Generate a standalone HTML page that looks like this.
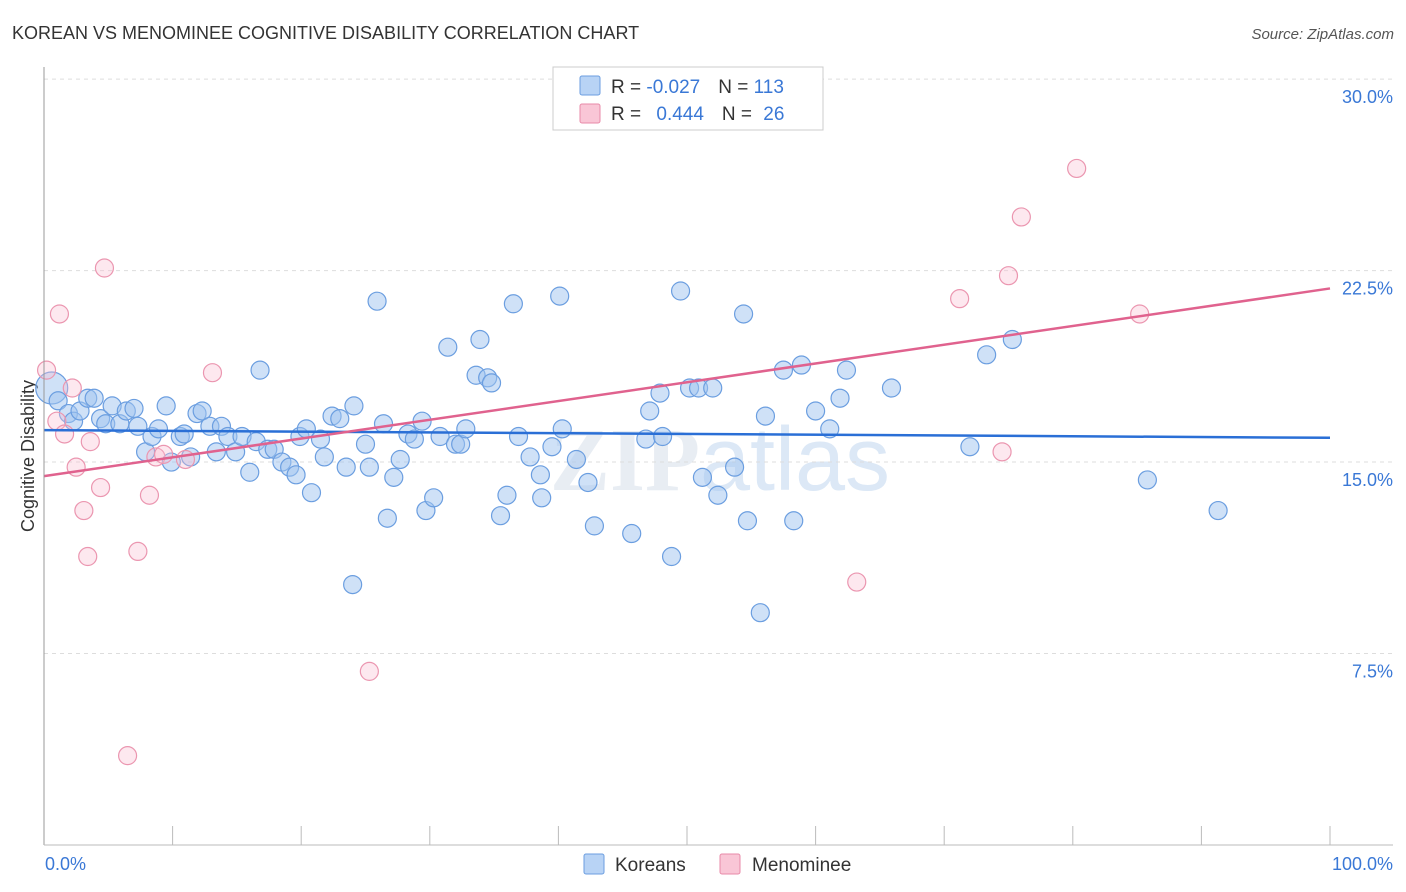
<!DOCTYPE html>
<html><head><meta charset="utf-8">
<style>
body{margin:0;background:#fff;font-family:"Liberation Sans",sans-serif;}
#wrap{position:relative;width:1406px;height:892px;overflow:hidden}
</style></head>
<body><div id="wrap">
<svg id="svg" width="1406" height="892" xmlns="http://www.w3.org/2000/svg">
<text x="12" y="39" font-size="18" fill="#333">KOREAN VS MENOMINEE COGNITIVE DISABILITY CORRELATION CHART</text>
<text x="1394" y="39" font-size="15" fill="#555" font-style="italic" text-anchor="end">Source: ZipAtlas.com</text>
<text x="720" y="490" font-size="90" fill="#e8edf3" text-anchor="middle" font-family="Liberation Serif,serif" font-weight="bold">ZIP<tspan fill="#dce8f6" font-family="Liberation Sans,sans-serif" font-weight="normal">atlas</tspan></text>
<text x="34" y="456" font-size="18" fill="#333" text-anchor="middle" transform="rotate(-90 34 456)">Cognitive Disability</text>
<g id="grid"></g><g id="pts"></g><g id="lines"></g>
<line x1="44" y1="67" x2="44" y2="845" stroke="#999"/>
<line x1="44" y1="845" x2="1393" y2="845" stroke="#bbb"/>
<text x="45" y="870" font-size="18" fill="#3a78d6">0.0%</text>
<text x="1393" y="870" font-size="18" fill="#3a78d6" text-anchor="end">100.0%</text>
<g>
<rect x="553" y="67" width="270" height="63" fill="#fff" stroke="#ccc"/>
<rect x="580" y="76" width="20" height="19" fill="#b8d3f5" stroke="#6b9ee0" rx="2"/>
<rect x="580" y="104" width="20" height="19" fill="#f9c6d6" stroke="#e88aa8" rx="2"/>
<text x="611" y="93" font-size="19" fill="#333">R = <tspan fill="#3a78d6">-0.027</tspan><tspan dx="18">N = </tspan><tspan fill="#3a78d6">113</tspan></text>
<text x="611" y="120" font-size="19" fill="#333">R = <tspan dx="10" fill="#3a78d6">0.444</tspan><tspan dx="18">N = </tspan><tspan dx="6" fill="#3a78d6">26</tspan></text>
</g>
<g>
<rect x="584" y="854" width="20" height="20" fill="#b8d3f5" stroke="#6b9ee0" rx="2"/>
<text x="615" y="871" font-size="19" fill="#333">Koreans</text>
<rect x="720" y="854" width="20" height="20" fill="#f9c6d6" stroke="#e88aa8" rx="2"/>
<text x="752" y="871" font-size="19" fill="#333">Menominee</text>
</g>
</svg></div>
<script>
const yTicks=[7.5,15,22.5,30];
const yTickLabels=["7.5%","15.0%","22.5%","30.0%"];
const koreanX=[0.6,1.1,1.9,2.3,2.8,3.4,3.9,4.4,4.8,5.3,5.9,6.4,7.0,7.3,7.9,8.4,8.9,9.5,9.9,10.6,10.9,11.4,11.9,12.3,12.9,13.4,13.8,14.3,14.9,15.4,16.0,16.5,16.8,17.4,17.9,18.5,19.1,19.6,19.9,20.4,20.8,21.5,21.8,22.4,23.0,23.5,24.1,25.0,25.3,25.9,26.4,26.7,27.2,27.7,28.3,28.8,29.4,29.7,30.3,30.8,31.4,32.0,32.4,32.8,33.6,33.9,34.5,34.8,35.5,36.0,36.5,36.9,37.8,38.6,38.7,39.5,40.1,40.3,41.4,42.3,42.8,45.7,46.8,47.1,47.9,48.1,48.8,49.5,50.2,50.9,51.2,52.0,52.4,53.7,54.4,54.7,55.7,56.1,57.5,58.3,58.9,60.0,61.1,61.9,62.4,65.9,72.0,73.3,75.3,85.8,91.3,24.0];
const koreanY=[17.9,17.4,16.9,16.6,17.0,17.5,17.5,16.7,16.5,17.2,16.5,17.0,17.1,16.4,15.4,16.0,16.3,17.2,15.0,16.0,16.1,15.2,16.9,17.0,16.4,15.4,16.4,16.0,15.4,16.0,14.6,15.8,18.6,15.5,15.5,15.0,14.8,14.5,16.0,16.3,13.8,15.9,15.2,16.8,16.7,14.8,17.2,15.7,14.8,21.3,16.5,12.8,14.4,15.1,16.1,15.9,16.6,13.1,13.6,16.0,19.5,15.7,15.7,16.3,18.4,19.8,18.3,18.1,12.9,13.7,21.2,16.0,15.2,14.5,13.6,15.6,21.5,16.3,15.1,14.2,12.5,12.2,15.9,17.0,17.7,16.0,11.3,21.7,17.9,17.9,14.4,17.9,13.7,14.8,20.8,12.7,9.1,16.8,18.6,12.7,18.8,17.0,16.3,17.5,18.6,17.9,15.6,19.2,19.8,14.3,13.1,10.2];
const menX=[0.2,1.0,1.2,1.6,2.2,2.5,3.1,3.4,3.6,4.4,4.7,6.5,7.3,8.2,8.7,9.3,11.0,13.1,25.3,63.2,71.2,74.5,75.0,76.0,80.3,85.2];
const menY=[18.6,16.6,20.8,16.1,17.9,14.8,13.1,11.3,15.8,14.0,22.6,3.5,11.5,13.7,15.2,15.3,15.1,18.5,6.8,10.3,21.4,15.4,22.3,24.6,26.5,20.8];
const koreanTrend=[16.25,15.95];
const menTrend=[14.45,21.8];
const X=v=>44+v*12.86, Y=v=>845-v*25.53;
const NS="http://www.w3.org/2000/svg";
function mk(tag,attrs,parent){const e=document.createElementNS(NS,tag);for(const k in attrs)e.setAttribute(k,attrs[k]);document.getElementById(parent).appendChild(e);return e;}
yTicks.forEach((t,i)=>{
 const l=mk('line',{x1:44,x2:1393,y1:Y(t),y2:Y(t),stroke:'#ddd','stroke-dasharray':'4,4'},'grid');
 
 
 const tx=mk('text',{x:1393,y:Y(t)+24,'font-size':18,fill:'#3a78d6','text-anchor':'end'},'grid');
 tx.textContent=yTickLabels[i];
 
 
});
for(let k=1;k<=10;k++){const l=mk('line',{x1:X(k*10),x2:X(k*10),y1:826,y2:845,stroke:'#bbb'},'grid');
 
 }
koreanX.forEach((x,i)=>{const c=mk('circle',{cx:X(x),cy:Y(koreanY[i]),r:i==0?16:9,fill:'rgba(160,196,240,0.5)',stroke:'#6b9ee0','stroke-width':1.2},'pts');
 
 });
menX.forEach((x,i)=>{const c=mk('circle',{cx:X(x),cy:Y(menY[i]),r:9,fill:'rgba(249,190,208,0.35)',stroke:'#eb96b0','stroke-width':1.2},'pts');
 
 });
const bl=mk('line',{x1:X(0),x2:X(100),y1:Y(koreanTrend[0]),y2:Y(koreanTrend[1]),stroke:'#2a6fd6','stroke-width':2.5},'lines');


const pl=mk('line',{x1:X(0),x2:X(100),y1:Y(menTrend[0]),y2:Y(menTrend[1]),stroke:'#e0628e','stroke-width':2.5},'lines');


</script>
</body></html>
